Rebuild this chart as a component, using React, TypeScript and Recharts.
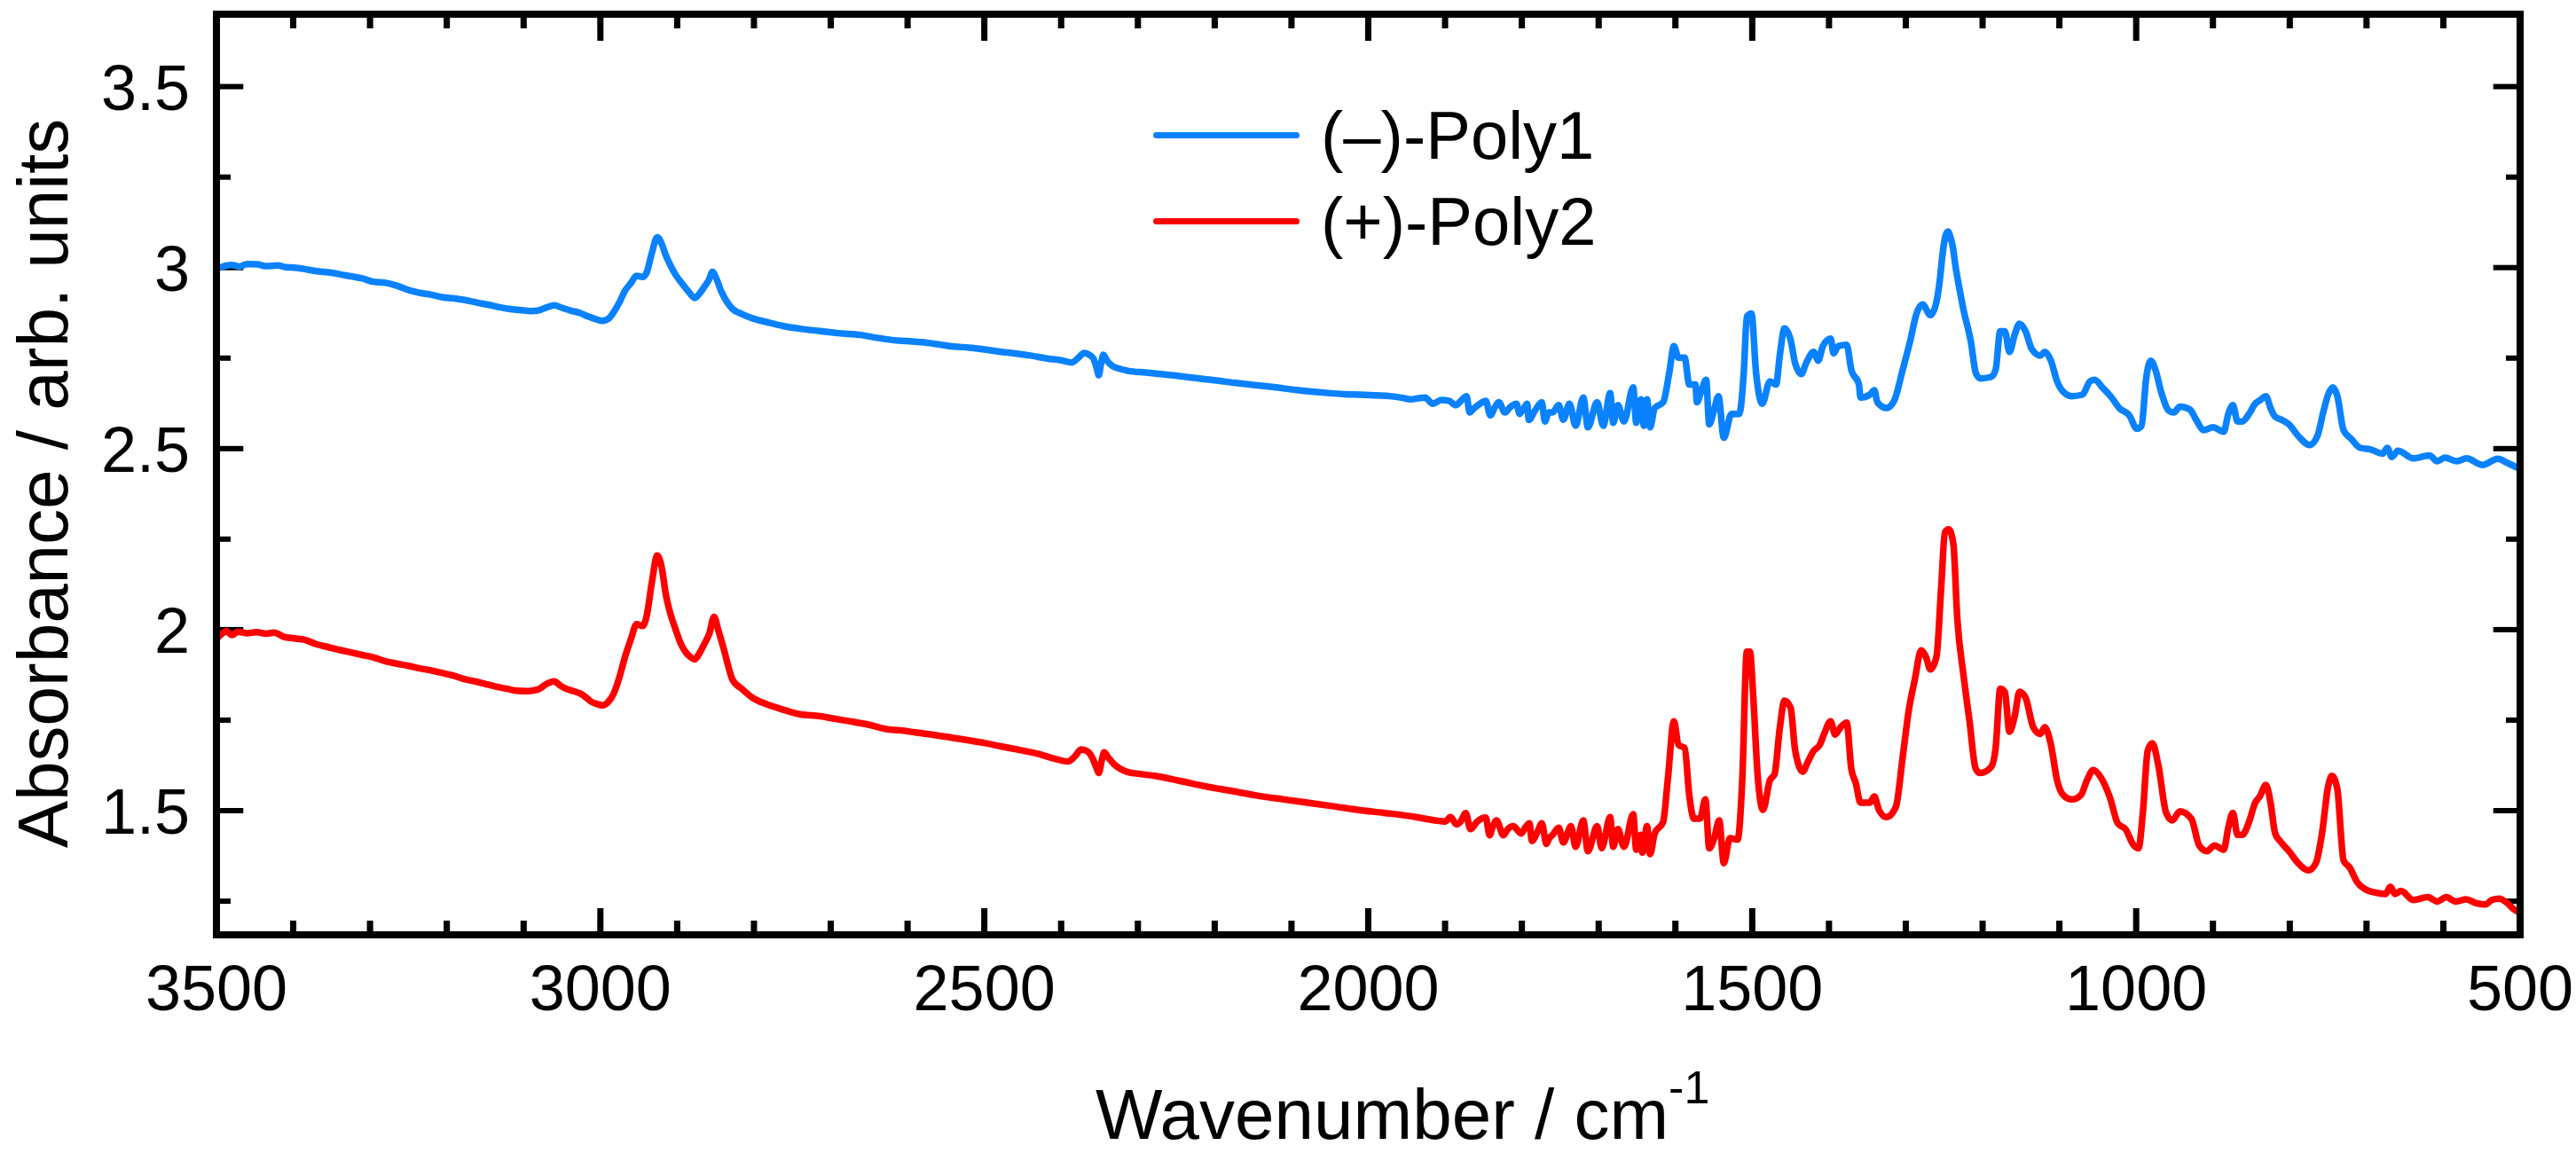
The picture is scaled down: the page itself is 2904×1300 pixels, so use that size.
import React from 'react';
import { ComposedChart, Line, Scatter, XAxis, YAxis, Legend, ReferenceLine } from 'recharts';

// FTIR spectra: [wavenumber / cm-1, absorbance]
const polyMinus: [number, number][] = [
  [3500, 2.997], [3490, 3.004], [3480, 3.007], [3470, 3.003], [3460, 3.010], [3447, 3.009],
  [3435, 3.004], [3420, 3.006], [3410, 3.001], [3399, 3.0], [3385, 2.996], [3370, 2.99],
  [3355, 2.987], [3340, 2.982], [3325, 2.976], [3310, 2.97], [3296, 2.961], [3280, 2.958],
  [3265, 2.95], [3250, 2.938], [3237, 2.931], [3220, 2.925], [3205, 2.918], [3190, 2.915],
  [3178, 2.911], [3160, 2.903], [3145, 2.897], [3130, 2.89], [3119, 2.886], [3105, 2.883],
  [3090, 2.88], [3082, 2.881], [3070, 2.89], [3060, 2.896], [3050, 2.889], [3038, 2.881],
  [3027, 2.875], [3016, 2.865], [3005, 2.857], [2997, 2.853], [2990, 2.858], [2983, 2.876],
  [2975, 2.905], [2968, 2.936], [2960, 2.958], [2953, 2.977], [2945, 2.974], [2940, 2.985],
  [2933, 3.04], [2926, 3.084], [2920, 3.065], [2915, 3.035], [2909, 3.007], [2902, 2.98],
  [2894, 2.957], [2885, 2.933], [2877, 2.916], [2871, 2.928], [2865, 2.946], [2859, 2.965],
  [2854, 2.988], [2849, 2.97], [2843, 2.936], [2836, 2.908], [2828, 2.886], [2815, 2.871],
  [2802, 2.86], [2780, 2.848], [2758, 2.837], [2736, 2.83], [2714, 2.825], [2690, 2.819],
  [2661, 2.814], [2640, 2.806], [2620, 2.8], [2600, 2.797], [2581, 2.794], [2560, 2.788],
  [2540, 2.782], [2520, 2.779], [2500, 2.774], [2480, 2.768], [2460, 2.763], [2440, 2.757],
  [2418, 2.749], [2400, 2.744], [2386, 2.738], [2378, 2.75], [2370, 2.764], [2364, 2.76],
  [2358, 2.749], [2354, 2.725], [2351, 2.703], [2348, 2.735], [2345, 2.759], [2340, 2.742],
  [2333, 2.728], [2323, 2.72], [2313, 2.715], [2290, 2.71], [2256, 2.703], [2230, 2.696],
  [2200, 2.689], [2175, 2.682], [2150, 2.676], [2120, 2.669], [2094, 2.662], [2070, 2.657],
  [2049, 2.653], [2030, 2.65], [2011, 2.649], [1990, 2.647], [1972, 2.645], [1955, 2.64],
  [1945, 2.636], [1935, 2.639], [1926, 2.641], [1916, 2.624], [1905, 2.634], [1895, 2.632],
  [1886, 2.62], [1879, 2.633], [1872, 2.645], [1868, 2.6], [1862, 2.612], [1857, 2.62],
  [1847, 2.632], [1841, 2.592], [1835, 2.615], [1830, 2.628], [1822, 2.6], [1815, 2.615],
  [1807, 2.624], [1803, 2.596], [1798, 2.61], [1793, 2.624], [1791, 2.579], [1783, 2.605],
  [1774, 2.628], [1770, 2.575], [1765, 2.6], [1760, 2.6], [1752, 2.62], [1746, 2.58],
  [1738, 2.624], [1730, 2.563], [1720, 2.641], [1714, 2.559], [1702, 2.628], [1694, 2.563],
  [1685, 2.653], [1681, 2.571], [1675, 2.62], [1667, 2.575], [1655, 2.669], [1651, 2.571],
  [1645, 2.636], [1641, 2.563], [1637, 2.636], [1633, 2.559], [1627, 2.612], [1616, 2.628],
  [1608, 2.71], [1602, 2.783], [1596, 2.751], [1588, 2.751], [1582, 2.677], [1574, 2.677],
  [1572, 2.628], [1566, 2.661], [1560, 2.69], [1556, 2.567], [1550, 2.604], [1544, 2.645],
  [1537, 2.53], [1527, 2.596], [1517, 2.596], [1511, 2.71], [1507, 2.865], [1501, 2.873],
  [1495, 2.71], [1487, 2.624], [1477, 2.686], [1469, 2.677], [1464, 2.759], [1458, 2.832],
  [1450, 2.8], [1444, 2.735], [1436, 2.706], [1430, 2.735], [1420, 2.767], [1414, 2.743],
  [1408, 2.783], [1398, 2.804], [1394, 2.763], [1388, 2.783], [1377, 2.787], [1371, 2.718],
  [1361, 2.677], [1359, 2.641], [1347, 2.649], [1341, 2.661], [1337, 2.628], [1325, 2.612],
  [1315, 2.633], [1304, 2.718], [1294, 2.8], [1286, 2.873], [1278, 2.898], [1268, 2.869],
  [1260, 2.906], [1256, 2.96], [1252, 3.04], [1248, 3.09], [1245, 3.1], [1242, 3.085],
  [1239, 3.06], [1235, 3.0], [1230, 2.94], [1225, 2.885], [1215, 2.792], [1209, 2.71],
  [1203, 2.694], [1189, 2.698], [1183, 2.718], [1177, 2.824], [1171, 2.824], [1165, 2.767],
  [1158, 2.816], [1152, 2.845], [1144, 2.824], [1136, 2.775], [1125, 2.757], [1119, 2.767],
  [1111, 2.743], [1103, 2.686], [1095, 2.657], [1084, 2.645], [1070, 2.649], [1060, 2.686],
  [1054, 2.69], [1044, 2.669], [1032, 2.641], [1022, 2.612], [1009, 2.592], [999, 2.555],
  [993, 2.563], [987, 2.694], [981, 2.743], [975, 2.718], [967, 2.653], [957, 2.604],
  [951, 2.6], [943, 2.616], [930, 2.608], [922, 2.58], [912, 2.551], [900, 2.559],
  [886, 2.547], [880, 2.596], [874, 2.62], [868, 2.575], [862, 2.575], [853, 2.596],
  [845, 2.624], [839, 2.633], [831, 2.645], [825, 2.612], [819, 2.588], [811, 2.58],
  [801, 2.567], [789, 2.535], [774, 2.51], [764, 2.535], [756, 2.604], [750, 2.649],
  [744, 2.669], [738, 2.645], [730, 2.551], [720, 2.527], [708, 2.502], [695, 2.498],
  [679, 2.486], [673, 2.502], [667, 2.477], [659, 2.494], [639, 2.473], [618, 2.481],
  [608, 2.465], [598, 2.475], [582, 2.465], [570, 2.473], [549, 2.455], [529, 2.472],
  [517, 2.461], [501, 2.445],
];

const polyPlus: [number, number][] = [
  [3500, 1.974], [3492, 1.99], [3487, 1.996], [3480, 1.985], [3472, 1.994], [3460, 1.99],
  [3448, 1.993], [3435, 1.989], [3425, 1.992], [3412, 1.98], [3399, 1.976], [3385, 1.972],
  [3370, 1.96], [3355, 1.952], [3340, 1.944], [3325, 1.937], [3310, 1.93], [3295, 1.923],
  [3281, 1.913], [3265, 1.906], [3250, 1.9], [3235, 1.893], [3222, 1.888], [3205, 1.88],
  [3190, 1.872], [3175, 1.862], [3163, 1.857], [3150, 1.85], [3135, 1.842], [3120, 1.836],
  [3112, 1.832], [3095, 1.83], [3082, 1.834], [3070, 1.85], [3060, 1.857], [3052, 1.845],
  [3045, 1.837], [3035, 1.83], [3027, 1.824], [3020, 1.815], [3012, 1.801], [3005, 1.795],
  [2997, 1.791], [2990, 1.8], [2983, 1.822], [2975, 1.87], [2968, 1.924], [2960, 1.975],
  [2953, 2.015], [2945, 2.01], [2940, 2.035], [2933, 2.13], [2926, 2.205], [2920, 2.17],
  [2915, 2.1], [2909, 2.045], [2902, 2.0], [2895, 1.96], [2889, 1.938], [2883, 1.925],
  [2877, 1.918], [2871, 1.935], [2865, 1.959], [2858, 1.99], [2852, 2.035], [2846, 1.995],
  [2839, 1.944], [2833, 1.895], [2828, 1.862], [2815, 1.835], [2802, 1.812], [2785, 1.795],
  [2765, 1.781], [2742, 1.767], [2714, 1.761], [2690, 1.752], [2676, 1.747], [2650, 1.737],
  [2627, 1.725], [2610, 1.722], [2590, 1.716], [2565, 1.709], [2544, 1.702], [2520, 1.694],
  [2500, 1.687], [2477, 1.677], [2455, 1.668], [2430, 1.657], [2411, 1.645], [2391, 1.636],
  [2382, 1.65], [2374, 1.669], [2368, 1.666], [2364, 1.661], [2358, 1.64], [2354, 1.618],
  [2351, 1.604], [2347, 1.64], [2344, 1.661], [2338, 1.645], [2331, 1.628], [2323, 1.616],
  [2315, 1.608], [2300, 1.602], [2278, 1.596], [2245, 1.582], [2212, 1.567], [2180, 1.555],
  [2146, 1.542], [2110, 1.531], [2079, 1.522], [2045, 1.512], [2013, 1.502], [1980, 1.494],
  [1946, 1.485], [1930, 1.479], [1913, 1.473], [1900, 1.47], [1893, 1.482], [1885, 1.462],
  [1880, 1.469], [1873, 1.493], [1867, 1.449], [1858, 1.47], [1847, 1.481], [1842, 1.432],
  [1838, 1.455], [1833, 1.473], [1824, 1.432], [1818, 1.45], [1811, 1.457], [1801, 1.437],
  [1795, 1.455], [1790, 1.465], [1787, 1.416], [1780, 1.44], [1774, 1.465], [1768, 1.408],
  [1764, 1.425], [1760, 1.433], [1752, 1.453], [1746, 1.412], [1736, 1.457], [1730, 1.4],
  [1720, 1.473], [1714, 1.388], [1702, 1.457], [1696, 1.396], [1685, 1.482], [1681, 1.4],
  [1675, 1.449], [1667, 1.4], [1655, 1.49], [1651, 1.392], [1645, 1.433], [1643, 1.384],
  [1637, 1.457], [1633, 1.38], [1627, 1.437], [1616, 1.469], [1610, 1.584], [1602, 1.747],
  [1596, 1.682], [1588, 1.673], [1582, 1.543], [1576, 1.478], [1568, 1.478], [1561, 1.531],
  [1556, 1.396], [1550, 1.42], [1543, 1.473], [1537, 1.355], [1529, 1.424], [1519, 1.42],
  [1513, 1.584], [1507, 1.939], [1503, 1.939], [1499, 1.828], [1493, 1.6], [1486, 1.502],
  [1477, 1.584], [1471, 1.6], [1464, 1.73], [1458, 1.804], [1450, 1.784], [1444, 1.665],
  [1434, 1.608], [1428, 1.633], [1420, 1.665], [1412, 1.682], [1406, 1.714], [1398, 1.747],
  [1392, 1.71], [1385, 1.73], [1377, 1.743], [1371, 1.616], [1365, 1.575], [1359, 1.522],
  [1347, 1.522], [1341, 1.539], [1335, 1.502], [1325, 1.482], [1313, 1.51], [1304, 1.649],
  [1296, 1.779], [1288, 1.865], [1280, 1.943], [1274, 1.926], [1268, 1.89], [1260, 1.926],
  [1254, 2.114], [1249, 2.269], [1244, 2.277], [1238, 2.236], [1233, 2.032], [1225, 1.877],
  [1217, 1.747], [1209, 1.616], [1203, 1.604], [1189, 1.62], [1183, 1.673], [1177, 1.837],
  [1171, 1.828], [1165, 1.718], [1158, 1.763], [1152, 1.828], [1144, 1.812], [1134, 1.73],
  [1125, 1.712], [1119, 1.73], [1111, 1.682], [1103, 1.584], [1095, 1.543], [1084, 1.531],
  [1072, 1.543], [1064, 1.584], [1056, 1.612], [1046, 1.592], [1034, 1.535], [1024, 1.465],
  [1014, 1.449], [1003, 1.404], [997, 1.396], [991, 1.502], [985, 1.665], [979, 1.686],
  [971, 1.624], [961, 1.494], [953, 1.473], [943, 1.498], [928, 1.477], [918, 1.404],
  [908, 1.388], [898, 1.404], [886, 1.392], [880, 1.453], [874, 1.494], [868, 1.433],
  [862, 1.433], [853, 1.469], [845, 1.522], [839, 1.539], [831, 1.571], [825, 1.522],
  [819, 1.437], [811, 1.412], [801, 1.388], [789, 1.355], [776, 1.335], [766, 1.355],
  [758, 1.437], [750, 1.567], [745, 1.596], [738, 1.559], [730, 1.363], [722, 1.343],
  [712, 1.302], [701, 1.282], [689, 1.274], [675, 1.27], [669, 1.29], [663, 1.27],
  [655, 1.278], [639, 1.253], [620, 1.261], [608, 1.249], [596, 1.261], [584, 1.249],
  [570, 1.255], [558, 1.245], [545, 1.241], [537, 1.253], [527, 1.257], [517, 1.245],
  [509, 1.229], [499, 1.216],
];

const seriesNames = ['(\u2013)-Poly1', '(+)-Poly2'];
const seriesColors = ['#0A82FF', '#FF0000'];

const xTicks = [
  3500, 3400, 3300, 3200, 3100, 3000, 2900, 2800, 2700, 2600, 2500, 2400, 2300, 2200, 2100, 2000,
  1900, 1800, 1700, 1600, 1500, 1400, 1300, 1200, 1100, 1000, 900, 800, 700, 600, 500,
];
const xLabelled = [3500, 3000, 2500, 2000, 1500, 1000, 500];
const yTicks = [1.25, 1.5, 1.75, 2, 2.25, 2.5, 2.75, 3, 3.25, 3.5];
const yLabelled = [1.5, 2, 2.5, 3, 3.5];

const FONT = '"Liberation Sans", Arial, sans-serif';
const X_MIN = 500;
const X_MAX = 3500;
const Y_MIN = 1.157;
const Y_MAX = 3.7;
const TICK_MAJOR_PX = 30;
const TICK_MINOR_PX = 16;
// y tick lengths in cm-1 (2597 px over 3000 cm-1)
const Y_TICK_MAJOR = 35;
const Y_TICK_MINOR = 18.5;

const toPoints = (rows: [number, number][]) => rows.map(([wn, a]) => ({ wn, a }));

const XLabel = (props: any) => {
  const value = Number(props.payload.value);
  if (!xLabelled.includes(value)) return <g />;
  return (
    <text x={Number(props.x)} y={Number(props.y) + 85} textAnchor="middle" fontSize={72} fontFamily={FONT} fill="#000">
      {value}
    </text>
  );
};

const NoLabel = () => <g />;

const YLabel = (props: any) => {
  const value = Number(props.payload.value);
  if (!yLabelled.includes(value)) return <g />;
  return (
    <text x={Number(props.x) - 30} y={Number(props.y) + 26} textAnchor="end" fontSize={72} fontFamily={FONT} fill="#000">
      {value}
    </text>
  );
};

const XTitle = () => (
  <text x={1235} y={1284} fontSize={80} fontFamily={FONT} fill="#000">
    Wavenumber / cm
    <tspan fontSize={52} dy={-40}>-1</tspan>
  </text>
);

const YTitle = () => (
  <text
    x={76}
    y={545}
    transform="rotate(-90, 76, 545)"
    textAnchor="middle"
    fontSize={80}
    fontFamily={FONT}
    fill="#000"
  >
    Absorbance / arb. units
  </text>
);

const LegendBox = ({ payload }: any) => {
  const rows = [...(payload || [])]
    .filter((e: any) => seriesNames.includes(e.value))
    .sort((a: any, b: any) => seriesNames.indexOf(a.value) - seriesNames.indexOf(b.value));
  return (
    <div style={{ fontFamily: FONT, fontSize: 76, color: '#000' }}>
      {rows.map((entry: any) => (
        <div key={entry.value} style={{ display: 'flex', alignItems: 'center', height: 97 }}>
          <div
            style={{ width: 165, height: 7, borderRadius: 3.5, background: entry.color, marginRight: 24 }}
          />
          <span style={{ lineHeight: 1, whiteSpace: 'nowrap' }}>{entry.value}</span>
        </div>
      ))}
    </div>
  );
};

const axisLine = { stroke: '#000', strokeWidth: 8, strokeLinecap: 'square' as const };
const tickLineStyle = { stroke: '#000', strokeWidth: 6 };

// x tick marks: one point per tick on the bottom and top edges, drawn as short strokes
const bottomTickPoints = xTicks.map((wn) => ({ wn, a: Y_MIN, major: xLabelled.includes(wn) }));
const topTickPoints = xTicks.map((wn) => ({ wn, a: Y_MAX, major: xLabelled.includes(wn) }));

const TickMark = (dir: number) => (props: any) => {
  const cx = Number(props.cx);
  const cy = Number(props.cy);
  const len = props.payload && props.payload.major ? TICK_MAJOR_PX : TICK_MINOR_PX;
  return <path d={`M${cx},${cy}V${cy + dir * len}`} stroke="#000" strokeWidth={7} fill="none" />;
};

type Seg = { key: string; a: { x: number; y: number }; b: { x: number; y: number } };

const yTickSegments = (): Seg[] =>
  yTicks.flatMap((v) => {
    const len = yLabelled.includes(v) ? Y_TICK_MAJOR : Y_TICK_MINOR;
    return [
      { key: `l${v}`, a: { x: X_MAX, y: v }, b: { x: X_MAX - len, y: v } },
      { key: `r${v}`, a: { x: X_MIN + len, y: v }, b: { x: X_MIN, y: v } },
    ];
  });

export default function App() {
  const blue = toPoints(polyMinus);
  const red = toPoints(polyPlus);

  return (
    <div style={{ position: 'absolute', left: 0, top: 0, width: 2904, height: 1300, background: '#fff' }}>
      <ComposedChart width={2904} height={1300} margin={{ top: 15, right: 62, bottom: 0, left: 0 }}>
        <XAxis
          xAxisId="bottom"
          type="number"
          dataKey="wn"
          domain={[X_MIN, X_MAX]}
          reversed
          allowDataOverflow
          ticks={xTicks}
          interval={0}
          height={246}
          tickSize={-TICK_MINOR_PX}
          tickMargin={TICK_MINOR_PX}
          tickLine={tickLineStyle}
          axisLine={axisLine}
          tick={(p: any) => <XLabel {...p} />}
          label={<XTitle />}
        />
        <XAxis
          xAxisId="top"
          orientation="top"
          type="number"
          dataKey="wn"
          domain={[X_MIN, X_MAX]}
          reversed
          allowDataOverflow
          ticks={xTicks}
          interval={0}
          height={1}
          tickSize={-TICK_MINOR_PX}
          tickMargin={0}
          tickLine={tickLineStyle}
          tick={() => <NoLabel />}
          axisLine={axisLine}
        />
        <YAxis
          yAxisId="left"
          type="number"
          domain={[Y_MIN, Y_MAX]}
          allowDataOverflow
          ticks={yTicks}
          interval={0}
          width={244}
          tickSize={0}
          tickMargin={0}
          tickLine={false}
          axisLine={axisLine}
          tick={(p: any) => <YLabel {...p} />}
          label={<YTitle />}
        />
        <YAxis
          yAxisId="right"
          orientation="right"
          type="number"
          domain={[Y_MIN, Y_MAX]}
          allowDataOverflow
          ticks={yTicks}
          width={1}
          tickLine={false}
          tick={false}
          axisLine={axisLine}
        />
        {yTickSegments().map((s) => (
          <ReferenceLine
            key={s.key}
            xAxisId="bottom"
            yAxisId="left"
            segment={[s.a, s.b]}
            stroke="#000"
            strokeWidth={6}
            ifOverflow="visible"
          />
        ))}
        <Legend
          layout="horizontal"
          verticalAlign="middle"
          align="center"
          wrapperStyle={{ left: 1300, top: 104, width: 'auto' }}
          content={<LegendBox />}
        />
        <Scatter
          xAxisId="bottom"
          yAxisId="left"
          data={bottomTickPoints}
          dataKey="a"
          name="bottom ticks"
          legendType="none"
          shape={TickMark(-1)}
          isAnimationActive={false}
        />
        <Scatter
          xAxisId="bottom"
          yAxisId="left"
          data={topTickPoints}
          dataKey="a"
          name="top ticks"
          legendType="none"
          shape={TickMark(1)}
          isAnimationActive={false}
        />
        <Line
          xAxisId="bottom"
          yAxisId="left"
          data={blue}
          dataKey="a"
          name={seriesNames[0]}
          stroke={seriesColors[0]}
          strokeWidth={7.5}
          strokeLinejoin="round"
          type="monotone"
          dot={false}
          activeDot={false}
          isAnimationActive={false}
        />
        {/* same domains on both axis pairs, so the second spectrum keeps the top/right frame alive */}
        <Line
          xAxisId="top"
          yAxisId="right"
          data={red}
          dataKey="a"
          name={seriesNames[1]}
          stroke={seriesColors[1]}
          strokeWidth={7.5}
          strokeLinejoin="round"
          type="monotone"
          dot={false}
          activeDot={false}
          isAnimationActive={false}
        />
      </ComposedChart>
    </div>
  );
}
